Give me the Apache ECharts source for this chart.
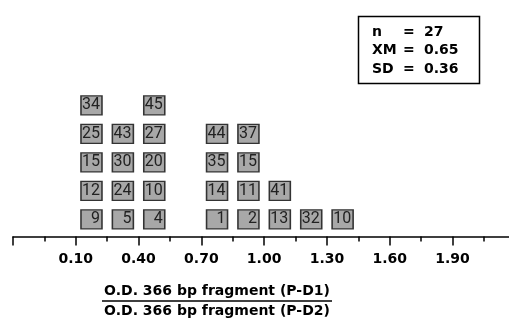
<!DOCTYPE html>
<html>
<head>
<meta charset="utf-8">
<script src="https://cdn.jsdelivr.net/npm/echarts@6/dist/echarts.min.js"></script>
<style>
  html, body { margin: 0; padding: 0; background: #fff; }
  #main { width: 509px; height: 320px; }
</style>
</head>
<body>
<div id="main"></div>
<script>
(function () {
var myChart = echarts.init(document.getElementById('main'));

// bin centres (O.D. ratio) and the sample numbers stacked in each bin, bottom to top
var binCenters = [0.175, 0.325, 0.475, 0.775, 0.925, 1.075, 1.225, 1.375];
var stacks = [
    [9, 12, 15, 25, 34],
    [5, 24, 30, 43],
    [4, 10, 20, 27, 45],
    [1, 14, 35, 44],
    [2, 11, 15, 37],
    [13, 41],
    [32],
    [10]
];

var majorTicks = [-0.2, 0.1, 0.4, 0.7, 1.0, 1.3, 1.6, 1.9];
var minorTicks = [-0.05, 0.25, 0.55, 0.85, 1.15, 1.45, 1.75, 2.05];
var tickLabels = [0.1, 0.4, 0.7, 1.0, 1.3, 1.6, 1.9];

var statNames = ['n', 'XM', 'SD'];
var statValues = ['27', '0.65', '0.36'];

var axisTitleTop = 'O.D. 366 bp fragment (P-D1)';
var axisTitleBottom = 'O.D. 366 bp fragment (P-D2)';

var boxes = [];
for (var i = 0; i < stacks.length; i++) {
    for (var j = 0; j < stacks[i].length; j++) {
        boxes.push([binCenters[i], j + 0.6, stacks[i][j]]);
    }
}

var boldFont = '"DejaVu Sans", Verdana, sans-serif';

var statTexts = [];
for (var k = 0; k < statNames.length; k++) {
    var yy = 32 + k * 18.5;
    statTexts.push({ type: 'text', x: 372, y: yy, style: { text: statNames[k], font: 'bold 14px ' + boldFont, fill: '#000', textVerticalAlign: 'middle' } });
    statTexts.push({ type: 'text', x: 403, y: yy, style: { text: '=', font: 'bold 14px ' + boldFont, fill: '#000', textVerticalAlign: 'middle' } });
    statTexts.push({ type: 'text', x: 424, y: yy, style: { text: statValues[k], font: 'bold 14px ' + boldFont, fill: '#000', textVerticalAlign: 'middle' } });
}

option = {
    animation: false,
    backgroundColor: '#fff',
    grid: {
        left: 13,
        right: 0,
        top: 65.5,
        bottom: 83.5
    },
    xAxis: [{
        type: 'value',
        min: -0.2,
        max: 2.17,
        splitLine: { show: false },
        axisLine: { lineStyle: { color: '#000', width: 1.5 } },
        axisTick: {
            customValues: majorTicks,
            length: 9,
            lineStyle: { color: '#000', width: 1.5 }
        },
        axisLabel: {
            customValues: tickLabels,
            margin: 16,
            color: '#000',
            fontFamily: boldFont,
            fontWeight: 'bold',
            fontSize: 14,
            formatter: function (v) { return v.toFixed(2); }
        }
    }, {
        type: 'value',
        position: 'bottom',
        min: -0.2,
        max: 2.17,
        splitLine: { show: false },
        axisLine: { show: false },
        axisTick: {
            customValues: minorTicks,
            length: 5,
            lineStyle: { color: '#000', width: 1.5 }
        },
        axisLabel: { show: false }
    }],
    yAxis: {
        type: 'value',
        min: 0,
        max: 6,
        show: false
    },
    series: [{
        type: 'scatter',
        data: boxes,
        symbol: 'rect',
        symbolSize: [21, 19],
        itemStyle: {
            color: '#a8a8a8',
            borderColor: '#333',
            borderWidth: 1.5,
            opacity: 1
        },
        label: {
            show: true,
            position: 'inside',
            align: 'right',
            offset: [8.5, 0],
            color: '#222',
            fontFamily: 'Roboto, sans-serif',
            fontSize: 16,
            formatter: function (p) { return p.value[2]; }
        }
    }],
    graphic: [
        { type: 'rect', shape: { x: 358.5, y: 16.5, width: 121, height: 67 }, style: { fill: '#fff', stroke: '#000', lineWidth: 1.5 } }
    ].concat(statTexts).concat([
        { type: 'text', x: 217, y: 291, style: { text: axisTitleTop, font: 'bold 14px ' + boldFont, fill: '#000', textAlign: 'center', textVerticalAlign: 'middle' } },
        { type: 'line', shape: { x1: 102, y1: 301, x2: 332, y2: 301 }, style: { stroke: '#000', lineWidth: 1.5 } },
        { type: 'text', x: 217, y: 311, style: { text: axisTitleBottom, font: 'bold 14px ' + boldFont, fill: '#000', textAlign: 'center', textVerticalAlign: 'middle' } }
    ])
};

myChart.setOption(option);
window.addEventListener('resize', function () {
    myChart.resize();
});
})();
</script>
</body>
</html>
